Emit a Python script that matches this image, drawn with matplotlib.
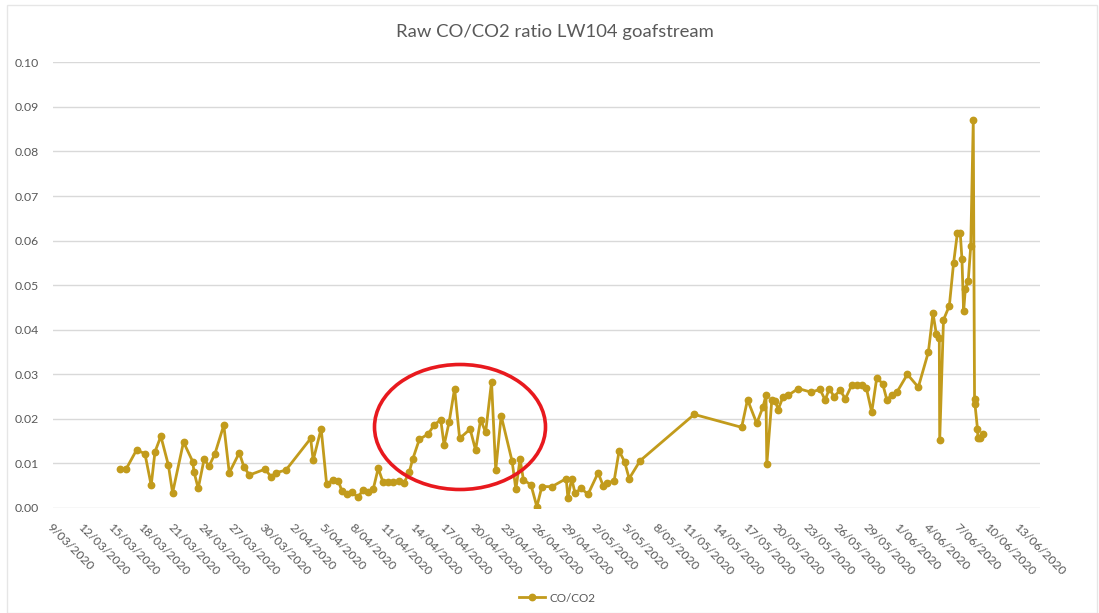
import matplotlib
matplotlib.use("Agg")
import matplotlib.pyplot as plt
from matplotlib.patches import Ellipse, Rectangle
import pandas as pd

plt.rcParams['font.family'] = ['Lato', 'DejaVu Sans']

title = "Raw CO/CO2 ratio LW104 goafstream"
series_name = "CO/CO2"

timestamps = [
    "2020-03-15 16:00", "2020-03-16 06:00", "2020-03-17 07:00", "2020-03-18 03:00", "2020-03-18 18:00",
    "2020-03-19 03:00", "2020-03-19 17:00", "2020-03-20 11:00", "2020-03-20 21:00", "2020-03-21 23:00",
    "2020-03-22 21:00", "2020-03-23 00:00", "2020-03-23 10:00", "2020-03-24 00:00", "2020-03-24 12:00",
    "2020-03-25 02:00", "2020-03-25 23:00", "2020-03-26 12:00", "2020-03-27 12:00", "2020-03-27 23:00",
    "2020-03-28 12:00", "2020-03-30 01:00", "2020-03-30 16:00", "2020-03-31 03:00", "2020-04-01 03:00",
    "2020-04-03 14:00", "2020-04-03 20:00", "2020-04-04 15:00", "2020-04-05 04:00", "2020-04-05 20:00",
    "2020-04-06 08:00", "2020-04-06 16:00", "2020-04-07 04:00", "2020-04-07 16:00", "2020-04-08 06:00",
    "2020-04-08 19:00", "2020-04-09 07:00", "2020-04-09 19:00", "2020-04-10 07:00", "2020-04-10 18:00",
    "2020-04-11 07:00", "2020-04-11 19:00", "2020-04-12 09:00", "2020-04-12 21:00", "2020-04-13 09:00",
    "2020-04-13 17:00", "2020-04-14 09:00", "2020-04-15 06:00", "2020-04-15 20:00", "2020-04-16 12:00",
    "2020-04-16 20:00", "2020-04-17 08:00", "2020-04-17 21:00", "2020-04-18 09:00", "2020-04-19 10:00",
    "2020-04-19 23:00", "2020-04-20 11:00", "2020-04-20 23:00", "2020-04-21 13:00", "2020-04-21 23:00",
    "2020-04-22 12:00", "2020-04-23 14:00", "2020-04-23 23:00", "2020-04-24 09:00", "2020-04-24 17:00",
    "2020-04-25 11:00", "2020-04-26 01:00", "2020-04-26 13:00", "2020-04-27 13:00", "2020-04-28 23:00",
    "2020-04-29 03:00", "2020-04-29 12:00", "2020-04-29 20:00", "2020-04-30 10:00", "2020-05-01 03:00",
    "2020-05-02 03:00", "2020-05-02 15:00", "2020-05-03 00:00", "2020-05-03 17:00", "2020-05-04 05:00",
    "2020-05-04 18:00", "2020-05-05 05:00", "2020-05-06 07:00", "2020-05-11 16:00", "2020-05-16 09:00",
    "2020-05-16 23:00", "2020-05-17 21:00", "2020-05-18 12:00", "2020-05-18 19:00", "2020-05-18 21:00",
    "2020-05-19 09:00", "2020-05-19 17:00", "2020-05-20 00:00", "2020-05-20 12:00", "2020-05-21 00:00",
    "2020-05-22 00:00", "2020-05-23 06:00", "2020-05-24 04:00", "2020-05-24 16:00", "2020-05-25 02:00",
    "2020-05-25 13:00", "2020-05-26 04:00", "2020-05-26 16:00", "2020-05-27 07:00", "2020-05-27 19:00",
    "2020-05-28 07:00", "2020-05-28 18:00", "2020-05-29 07:00", "2020-05-29 19:00", "2020-05-30 09:00",
    "2020-05-30 19:00", "2020-05-31 07:00", "2020-05-31 19:00", "2020-06-01 20:00", "2020-06-02 22:00",
    "2020-06-03 22:00", "2020-06-04 09:00", "2020-06-04 17:00", "2020-06-05 00:00", "2020-06-05 01:00",
    "2020-06-05 10:00", "2020-06-06 00:00", "2020-06-06 10:00", "2020-06-06 19:00", "2020-06-07 02:00",
    "2020-06-07 06:00", "2020-06-07 10:00", "2020-06-07 14:00", "2020-06-07 21:00", "2020-06-08 03:00",
    "2020-06-08 09:00", "2020-06-08 12:00", "2020-06-08 13:00", "2020-06-08 19:00", "2020-06-08 20:00",
    "2020-06-09 01:00", "2020-06-09 08:00",
]

co_co2 = [
    0.0087, 0.0087, 0.0130, 0.0122, 0.0051,
    0.0126, 0.0161, 0.0096, 0.0034, 0.0148,
    0.0104, 0.0081, 0.0044, 0.0109, 0.0094,
    0.0122, 0.0186, 0.0079, 0.0124, 0.0092,
    0.0074, 0.0087, 0.0070, 0.0079, 0.0085,
    0.0156, 0.0107, 0.0178, 0.0054, 0.0063,
    0.0061, 0.0039, 0.0031, 0.0037, 0.0024,
    0.0040, 0.0037, 0.0042, 0.0089, 0.0059,
    0.0059, 0.0059, 0.0061, 0.0057, 0.0081,
    0.0109, 0.0154, 0.0166, 0.0186, 0.0198,
    0.0141, 0.0193, 0.0268, 0.0156, 0.0177,
    0.0130, 0.0198, 0.0170, 0.0283, 0.0085,
    0.0207, 0.0105, 0.0042, 0.0110, 0.0063,
    0.0052, 0.0003, 0.0048, 0.0048, 0.0066,
    0.0022, 0.0066, 0.0033, 0.0044, 0.0031,
    0.0079, 0.0050, 0.0057, 0.0060, 0.0128,
    0.0104, 0.0066, 0.0106, 0.0210, 0.0181,
    0.0243, 0.0190, 0.0227, 0.0253, 0.0098,
    0.0243, 0.0240, 0.0221, 0.0250, 0.0253,
    0.0268, 0.0260, 0.0266, 0.0242, 0.0268,
    0.0250, 0.0264, 0.0245, 0.0275, 0.0275,
    0.0275, 0.0270, 0.0215, 0.0292, 0.0279,
    0.0243, 0.0253, 0.0260, 0.0300, 0.0271,
    0.0350, 0.0437, 0.0390, 0.0382, 0.0152,
    0.0422, 0.0454, 0.0549, 0.0616, 0.0616,
    0.0559, 0.0441, 0.0491, 0.0510, 0.0588,
    0.0870, 0.0245, 0.0233, 0.0178, 0.0156,
    0.0156, 0.0165,
]

tick_labels = [
    "9/03/2020", "12/03/2020", "15/03/2020", "18/03/2020", "21/03/2020", "24/03/2020",
    "27/03/2020", "30/03/2020", "2/04/2020", "5/04/2020", "8/04/2020", "11/04/2020",
    "14/04/2020", "17/04/2020", "20/04/2020", "23/04/2020", "26/04/2020", "29/04/2020",
    "2/05/2020", "5/05/2020", "8/05/2020", "11/05/2020", "14/05/2020", "17/05/2020",
    "20/05/2020", "23/05/2020", "26/05/2020", "29/05/2020", "1/06/2020", "4/06/2020",
    "7/06/2020", "10/06/2020", "13/06/2020",
]
y_ticks = [0.00, 0.01, 0.02, 0.03, 0.04, 0.05, 0.06, 0.07, 0.08, 0.09, 0.10]

x = pd.to_datetime(timestamps)
tick_dates = pd.to_datetime(tick_labels, format="%d/%m/%Y")

line_color = "#C29B1C"
text_color = "#595959"
grid_color = "#D9D9D9"

fig = plt.figure(figsize=(10.99, 6.13), dpi=100)
fig.patch.set_facecolor("white")
ax = fig.add_axes([53/1099, 1-508/613, (1040-53)/1099, (508-62.3)/613])

ax.plot(x, co_co2, color=line_color, linewidth=2.0, marker="o", markersize=4.6,
        markerfacecolor=line_color, markeredgecolor=line_color, label=series_name)

ax.set_xlim(pd.Timestamp("2020-03-09"), pd.Timestamp("2020-06-15"))
ax.set_ylim(0, 0.10)
ax.set_yticks(y_ticks)
ax.set_yticklabels([f"{v:.2f}" for v in y_ticks])
ax.set_xticks(tick_dates)
ax.set_xticklabels(tick_labels, rotation=-45, ha="left", va="top", rotation_mode="anchor")

ax.grid(axis="y", color=grid_color, linewidth=1.0)
ax.set_axisbelow(True)
for s in ax.spines.values():
    s.set_visible(False)
ax.tick_params(axis="both", length=0, colors=text_color, labelsize=8.8)
ax.tick_params(axis="x", pad=10)
ax.tick_params(axis="y", pad=10)

fig.text(555/1099, 1-32/613, title, ha="center", va="center", fontsize=13.3, color=text_color)

# red ellipse annotation
ell = Ellipse((460/1099, 1-427/613), 171/1099, 125/613, transform=fig.transFigure,
              fill=False, edgecolor="#E8191E", linewidth=2.6)
fig.add_artist(ell)

leg = fig.legend(loc="center", bbox_to_anchor=(557/1099, 1-598/613), frameon=False,
                 fontsize=8.5, handlelength=2.2, handletextpad=0.4)
for t in leg.get_texts():
    t.set_color(text_color)

# chart area border
fig.add_artist(Rectangle((7/1099, 0), 1090/1099, 1-5/613, transform=fig.transFigure,
                         fill=False, edgecolor="#E6E6E6", linewidth=1.0))

fig.savefig("out.png", dpi=100, facecolor="white")
